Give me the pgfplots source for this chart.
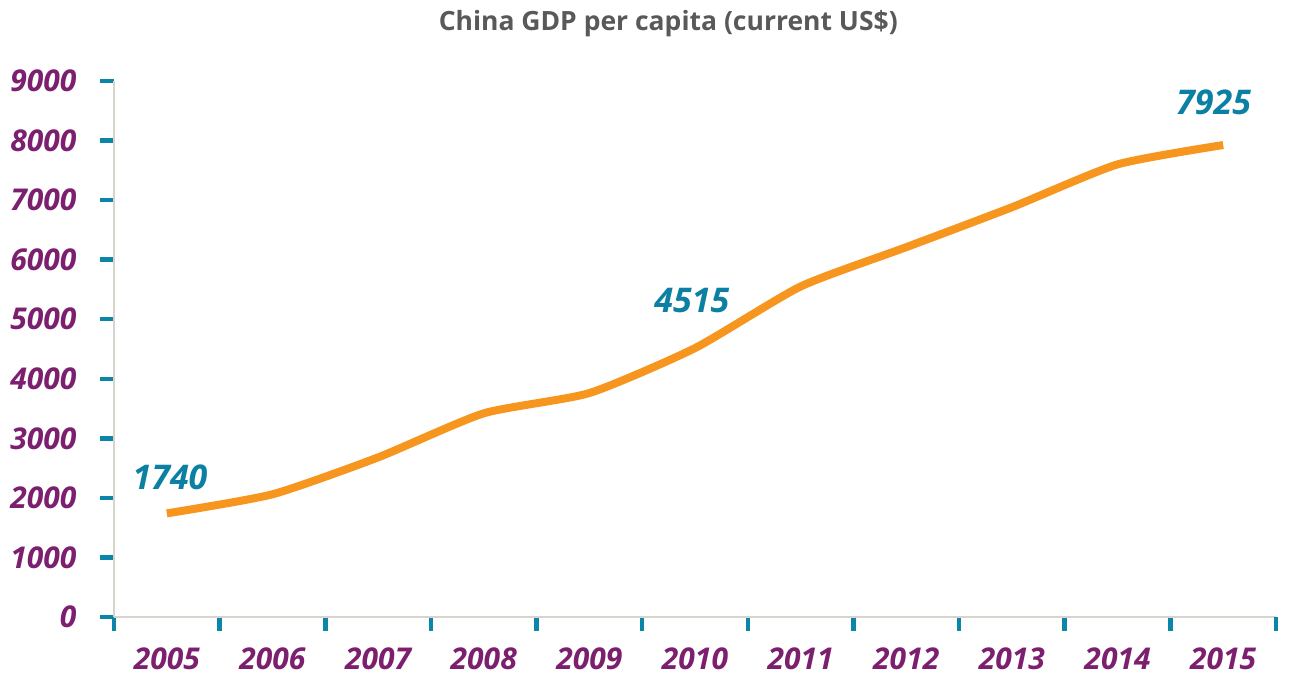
\documentclass[border=0pt]{standalone}
\usepackage{fontspec}
\setmainfont{Open Sans}
\usepackage{pgfplots}
\pgfplotsset{compat=1.18}

\definecolor{linecol}{HTML}{F7961E}
\definecolor{tickcol}{HTML}{0B86A8}
\definecolor{lblcol}{HTML}{0B80A3}
\definecolor{purp}{HTML}{7D1F6F}
\definecolor{titlecol}{HTML}{595959}
\definecolor{axiscol}{HTML}{D9D3CD}

\begin{document}
\begin{tikzpicture}
\begin{axis}[
    scale only axis,
    width=1162pt, height=536pt,
    xmin=-0.5, xmax=10.5,
    ymin=0, ymax=9000,
    axis lines*=left,
    axis line style={draw=axiscol, line width=2.5pt},
    xtick={-0.5,0.5,...,9.5},
    xticklabels={2005,2006,2007,2008,2009,2010,2011,2012,2013,2014,2015},
    extra x ticks={10.5},
    extra x tick labels={},
    ytick={0,1000,...,9000},
    yticklabels={0,1000,2000,3000,4000,5000,6000,7000,8000,9000},
    tick align=outside,
    major tick length=14pt,
    tick style={draw=tickcol, line width=4.5pt},
    ticklabel style={font=\fontsize{30}{34}\selectfont\bfseries\itshape, text=purp},
    xticklabel style={xshift=52.8pt, yshift=-13pt},
    yticklabel style={xshift=-20pt},
    clip=false,
]
\addplot[linecol, line width=8pt, smooth, tension=0.35] coordinates {
    (0,1740) (1,2060) (2,2680) (3,3420) (4,3760) (5,4515)
    (6,5550) (7,6210) (8,6880) (9,7600) (10,7925)
};
\node[font=\fontsize{34}{38}\selectfont\bfseries\itshape, text=lblcol] at (axis cs:0.03,2344) {1740};
\node[font=\fontsize{34}{38}\selectfont\bfseries\itshape, text=lblcol] at (axis cs:4.97,5314) {4515};
\node[font=\fontsize{34}{38}\selectfont\bfseries\itshape, text=lblcol] at (axis cs:9.91,8650) {7925};
\node[font=\fontsize{26.5}{31}\selectfont\bfseries, text=titlecol, anchor=base] at (rel axis cs:0.477,1) [yshift=50pt] {China GDP per capita (current US\$)};
\coordinate (ll) at (rel axis cs:0,0);
\coordinate (ur) at (rel axis cs:1,1);
\end{axis}
\pgfresetboundingbox
\path ([xshift=-114pt,yshift=-60pt]ll) rectangle ([xshift=14pt,yshift=81pt]ur);
\end{tikzpicture}
\end{document}
